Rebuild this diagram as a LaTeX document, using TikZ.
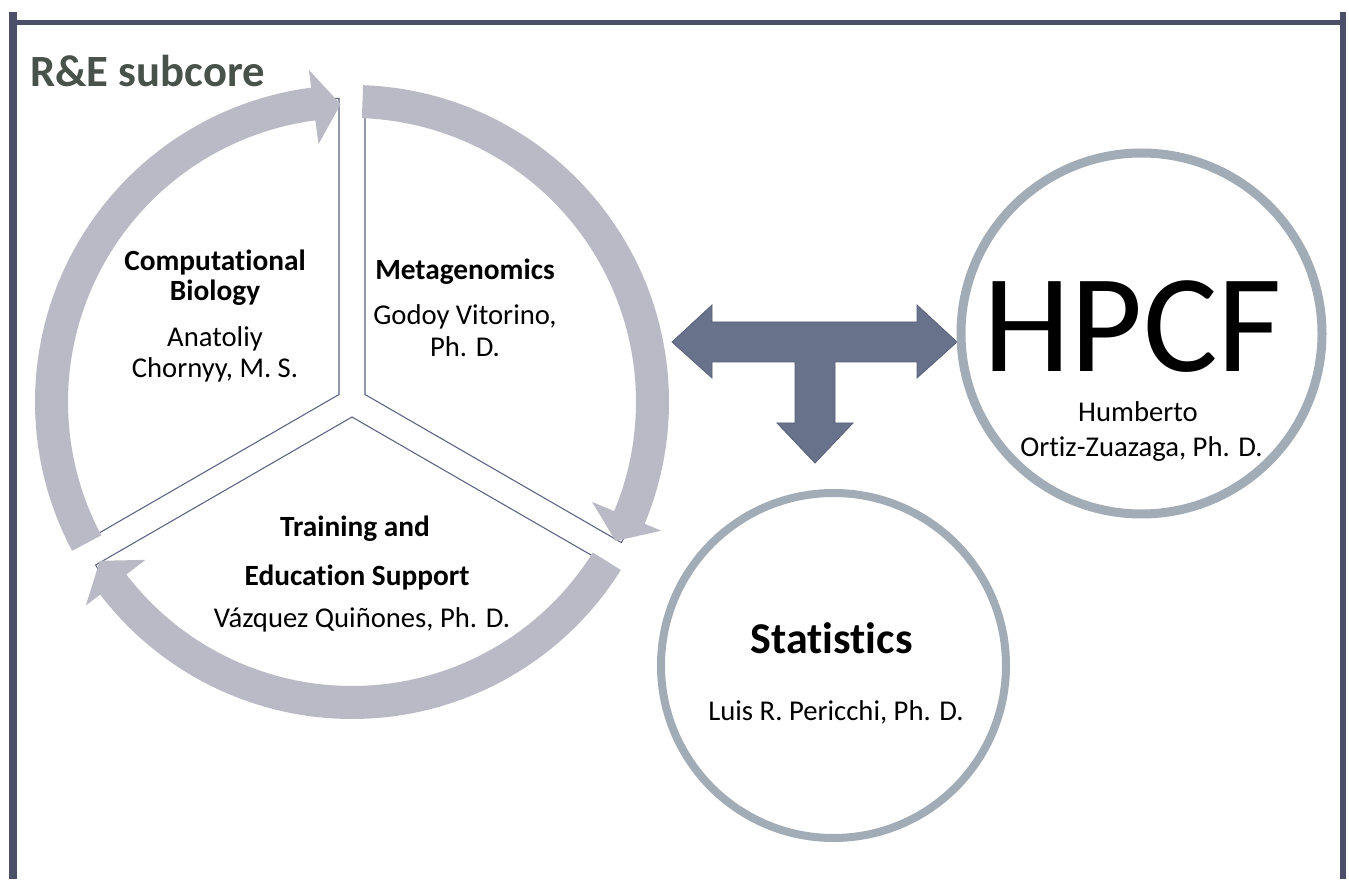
\documentclass[tikz,border=0pt]{standalone}
\usepackage{fontspec}
\setmainfont{Carlito}[RawFeature={-liga;-clig;-dlig;-calt}]
\definecolor{framecol}{RGB}{75,80,104}
\definecolor{bandcol}{RGB}{186,186,198}
\definecolor{tcol}{RGB}{104,114,138}
\definecolor{tline}{RGB}{88,96,122}
\definecolor{ringcol}{RGB}{162,172,183}
\definecolor{titlecol}{RGB}{72,82,74}
\definecolor{wedgeline}{RGB}{92,98,130}
\begin{document}
\begin{tikzpicture}[x=0.75pt,y=0.75pt,
  headtext/.style={anchor=base,inner sep=0pt,font=\fontsize{22}{26}\selectfont\bfseries},
  nametext/.style={anchor=base,inner sep=0pt,font=\fontsize{21.5}{25}\selectfont},
  ring/.style={circle,draw=ringcol,fill=white,inner sep=0pt},
  wedge/.style={draw=wedgeline,line width=0.8pt,fill=white},
  band/.style={fill=bandcol}]
\useasboundingbox (0,0) rectangle (1349,879);
% frame
\fill[framecol] (9,0) rectangle (17,867);
\fill[framecol] (13,854) rectangle (1343,859);
\fill[framecol] (1340,0) rectangle (1346,867);
\node [anchor=base west,inner sep=0pt,text=titlecol,font=\fontsize{33.5}{38}\selectfont\bfseries] (title) at (30,792) {R\&E subcore};

% cycle: three wedges and three curved arrows
\begin{scope}[shift={(352,477)}]
  \draw[wedge] (150:15) -- ++(90:296) arc (90:210:296) -- cycle;
  \draw[wedge] (30:15) -- ++(90:296) arc (90:-30:296) -- cycle;
  \draw[wedge] (270:15) -- ++(-30:296) arc (-30:-150:296) -- cycle;
  \foreach \a [evaluate=\a as \b using \a-110.6, evaluate=\a as \t using \a-115.8] in {208,88,-32}
    \fill[band] (\a:317) arc (\a:\b:317) -- (\b:335) -- (\t:298) -- (\b:260) -- (\b:284) arc (\b:\a:284) -- cycle;
\end{scope}

\node [headtext] (comp) at (215,608) {Computat\kern0pt ional};
\node [headtext] (bio) at (215,578) {Biology};
\node [nametext] (anat) at (215,532) {Anatoliy};
\node [nametext] (chor) at (215,501) {Chornyy, M. S.};

\node [headtext] (meta) at (465,599) {Metagenomics};
\node [nametext] (godoy) at (465,554) {Godoy Vitorino,};
\node [nametext] (godoyphd) at (465,522) {Ph. D.};

\node [headtext] (train) at (355,342) {Training and};
\node [headtext] (edu) at (357,294) {Education Support};
\node [nametext] (vaz) at (362,252) {Vázquez Quiñones, Ph. D.};

% T arrow
\filldraw[fill=tcol,draw=tline,line width=0.6pt] (672,537) -- (712,574) -- (712,557) -- (917,557) -- (917,574) -- (957,537) -- (917,501) -- (917,517) -- (835,517) -- (835,456) -- (853,456) -- (815,416) -- (777,456) -- (795,456) -- (795,517) -- (712,517) -- (712,501) -- cycle;

% HPCF
\node [ring,minimum size=270.75pt,line width=6.75pt] (hpcf) at (1141.5,545.5) {};
\node [anchor=base,inner sep=0pt,text depth=0pt,text height=70pt,font=\fontsize{105}{110}\selectfont] (hpcft) at (1133,507) {HPCF};
\node [nametext] (hum) at (1138,457) {Humberto};
\node [nametext] (ortiz) at (1141.5,422) {Ort\kern0pt iz-Zuazaga, Ph. D.};

% Statistics
\node [ring,minimum size=258.75pt,line width=6pt] (stat) at (833.5,213.5) {};
\node [anchor=base,inner sep=0pt,font=\fontsize{33}{38}\selectfont\bfseries] (statt) at (831.5,226) {Stat\kern0pt ist\kern0pt ics};
\node [nametext] (luis) at (836,159) {Luis R. Pericchi, Ph. D.};
\end{tikzpicture}
\end{document}
